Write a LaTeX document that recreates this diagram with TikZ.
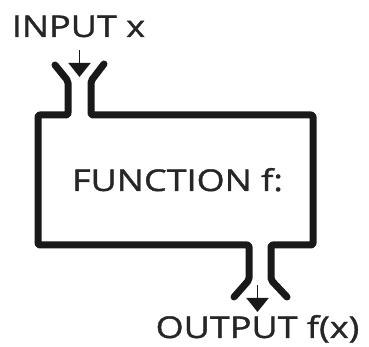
\documentclass[tikz,border=0pt]{standalone}
\usepackage{fontspec}
\newfontfamily\machinefont{Open Sans}[FakeStretch=1.2, FakeBold=1.2]
\usetikzlibrary{arrows.meta}

\begin{document}
\begin{tikzpicture}[x=1pt, y=1pt]
		
		% --- Parametri ---
		\def\boxL{38}
		\def\boxR{313}
		\def\boxT{232}
		\def\boxB{102}
		\def\wall{7pt}
		
		% --- Stili ---
		\tikzset{
			machine/.style={draw=black!90, line width=\wall, line cap=round, line join=round, rounded corners=2pt},
			label_text/.style={font=\machinefont\fontsize{30}{32}\selectfont, text=black!85, inner sep=0pt, anchor=base},
			feed/.style={-{Triangle[width=22pt, length=14pt]}, line width=1.8pt, draw=black!90}
		}
		
		\useasboundingbox (0,0) rectangle (369,347);
		
		% --- Corpo della macchina ---
		\draw[machine] (55,282) -- (68,266) -- (68,\boxT) -- (\boxL,\boxT) -- (\boxL,\boxB)
			-- (249,\boxB) -- (249,67) -- (234,50);
		\draw[machine] (104,283) -- (91,266) -- (91,\boxT) -- (\boxR,\boxT) -- (\boxR,\boxB)
			-- (271,\boxB) -- (271,67) -- (287,50);
		
		% --- Testi ---
		\node[label_text] (input) at (78.5,310) {INPUT x};
		\node[label_text] (func) at (177.5,156) {FUNCTION f:};
		\node[label_text] (output) at (257.5,9) {OUTPUT f(x)};
		
		% --- Frecce di ingresso e uscita ---
		\coordinate (in_mouth) at (79.5,270);
		\coordinate (out_mouth) at (257.5,62);
		\draw[feed] (in_mouth |- 0,297) -- (in_mouth);
		\draw[feed] (out_mouth) -- (output.north |- 0,35);
		
	\end{tikzpicture}
\end{document}
